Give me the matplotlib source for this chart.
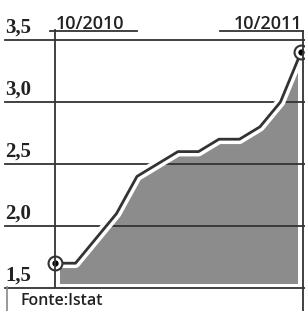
import matplotlib.pyplot as plt
import matplotlib.patheffects as pe
from matplotlib.patches import Rectangle
from matplotlib.lines import Line2D

# monthly values, 10/2010 .. 10/2011
months = list(range(13))
values = [1.7, 1.7, 1.9, 2.1, 2.4, 2.5, 2.6, 2.6, 2.7, 2.7, 2.8, 3.0, 3.4]
yticks = [1.5, 2.0, 2.5, 3.0, 3.5]
ytick_labels = ['1,5', '2,0', '2,5', '3,0', '3,5']
top_labels = ['10/2010', '10/2011']
source = 'Fonte:Istat'

W, H = 305, 311
fig = plt.figure(figsize=(W / 100, H / 100), dpi=100)
ax = fig.add_axes([55 / W, (H - 288) / H, 248 / W, 248 / H])
ax.set_xlim(0, 12.1)
ax.set_ylim(1.5, 3.5)
ax.axis('off')

dark = '#333333'

# filled area, inset a bit from the frame
fill = ax.fill_between(months, values, 1.5, color='#8c8c8c', lw=0, zorder=1)
clip = Rectangle((0.25, 1.54), 11.55, 2.0, transform=ax.transData)
fill.set_clip_path(clip)

# grid lines running across the whole width
for t in yticks:
    ax.axhline(t, xmin=-50 / 248, xmax=1.01, color=dark, lw=1.3,
               clip_on=False, zorder=2)

# the line with white halo
ax.plot(months, values, color=dark, lw=2, zorder=4, clip_on=False,
        path_effects=[pe.Stroke(linewidth=7, foreground='white'), pe.Normal()])
ax.plot([months[0], months[-1]], [values[0], values[-1]], 'o', ms=10,
        mfc='white', mec=dark, mew=1.5, zorder=5, clip_on=False)
ax.plot([months[0], months[-1]], [values[0], values[-1]], 'o', ms=3.5,
        color='black', zorder=6, clip_on=False)

# y labels sitting on the grid lines
for t, lab in zip(yticks, ytick_labels):
    fig.text(5 / W, ax.transData.transform((0, t))[1] / H + 2 / H, lab,
             fontsize=15, fontweight='bold', family='Liberation Serif',
             color='#222222', ha='left', va='bottom')

# frame lines
fig.add_artist(Line2D([55 / W, 55 / W], [(H - 30) / H, (H - 287) / H],
                      color=dark, lw=1.3))
fig.add_artist(Line2D([303 / W, 303 / W], [(H - 31) / H, 0],
                      color=dark, lw=1.3))
fig.add_artist(Line2D([50 / W, 137 / W], [(H - 31) / H, (H - 31) / H],
                      color=dark, lw=1.3))
fig.add_artist(Line2D([220 / W, 303 / W], [(H - 31) / H, (H - 31) / H],
                      color=dark, lw=1.3))
fig.add_artist(Line2D([7 / W, 7 / W], [(H - 287) / H, 0],
                      color='#888888', lw=1.2))

fig.text(56 / W, (H - 33) / H, top_labels[0], fontsize=13, family='Open Sans',
         fontweight='semibold', color='#222222', ha='left', va='bottom')
fig.text(302 / W, (H - 33) / H, top_labels[1], fontsize=13, family='Open Sans',
         fontweight='semibold', color='#222222', ha='right', va='bottom')

fig.text(20 / W, 2 / H, source, fontsize=11.5, family='Open Sans',
         fontweight='semibold', color='#222222', ha='left', va='bottom')

fig.savefig('out.png', dpi=100)
